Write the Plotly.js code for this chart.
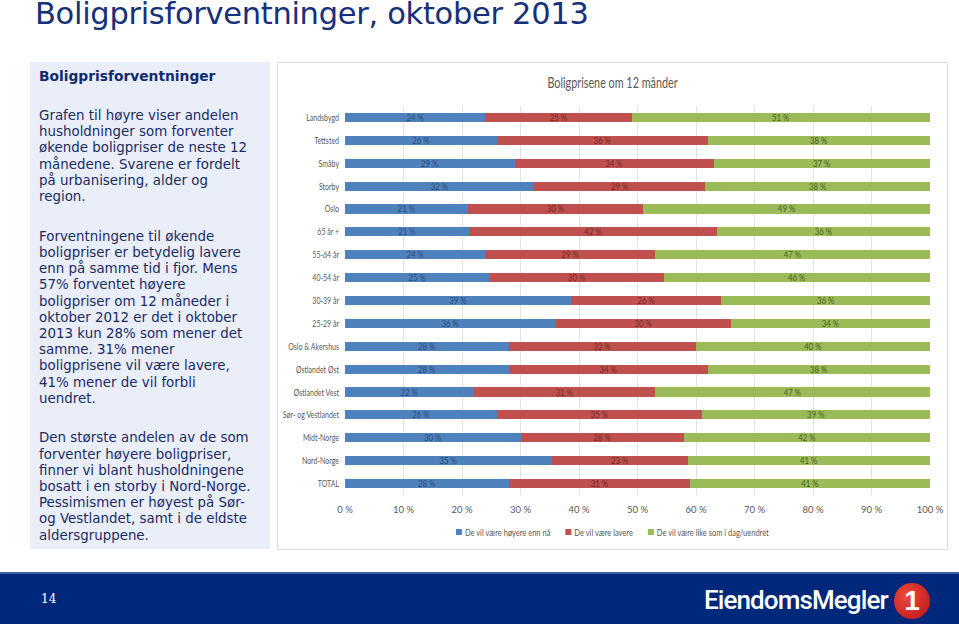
<!DOCTYPE html>
<html>
<head>
<meta charset="utf-8">
<script src="https://cdn.plot.ly/plotly-3.0.1.min.js"></script>
<style>
  html, body { margin:0; padding:0; width:959px; height:624px; overflow:hidden; background:#ffffff; }
  #title { position:absolute; left:35px; top:-1px; font-family:"DejaVu Sans", Verdana, sans-serif; font-size:30.5px; line-height:30px; color:#16307a; white-space:nowrap; letter-spacing:-0.3px; }
  #panel { position:absolute; left:30px; top:62px; width:240px; height:487px; background:#e9eef9; box-sizing:border-box; padding:5px 0 0 9px; font-family:"DejaVu Sans", Verdana, sans-serif; font-size:13.4px; line-height:16.2px; color:#1b2b63; white-space:nowrap; }
  #panel h3 { margin:0 0 23px 0; font-size:13.8px; font-weight:bold; color:#102a6e; line-height:18px; }
  #panel p { margin:0 0 23.5px 0; }
  #chartbox { position:absolute; left:277px; top:62px; width:671px; height:488px; border:1px solid #dedede; box-sizing:border-box; background:#fff; }
  #chart { position:absolute; left:0; top:0; width:669px; height:486px; }
  #footer { position:absolute; left:0; top:572px; width:959px; height:52px; background:#00287a; border-top:2px solid #3b5fa8; box-sizing:border-box; }
  #pnum { position:absolute; left:41px; top:18px; color:#fff; font-family:"DejaVu Serif", serif; font-size:12px; }
  #logo { position:absolute; left:704px; top:11px; color:#fff; font-family:"Roboto", sans-serif; font-size:26px; font-weight:500; letter-spacing:-0.9px; }
  #badge { position:absolute; left:894px; top:9px; width:36px; height:36px; border-radius:50%; background:radial-gradient(circle at 35% 35%, #f04a3a, #b5121b); color:#fff; font-family:"Liberation Sans", sans-serif; font-weight:bold; font-size:28px; text-align:center; line-height:36px; }
</style>
</head>
<body>
<div id="title">Boligprisforventninger, oktober 2013</div>
<div id="panel">
  <h3>Boligprisforventninger</h3>
  <p>Grafen til høyre viser andelen<br>husholdninger som forventer<br>økende boligpriser de neste 12<br>månedene. Svarene er fordelt<br>på urbanisering, alder og<br>region.</p>
  <p>Forventningene til økende<br>boligpriser er betydelig lavere<br>enn på samme tid i fjor. Mens<br>57% forventet høyere<br>boligpriser om 12 måneder i<br>oktober 2012 er det i oktober<br>2013 kun 28% som mener det<br>samme. 31% mener<br>boligprisene vil være lavere,<br>41% mener de vil forbli<br>uendret.</p>
  <p>Den største andelen av de som<br>forventer høyere boligpriser,<br>finner vi blant husholdningene<br>bosatt i en storby i Nord-Norge.<br>Pessimismen er høyest på Sør-<br>og Vestlandet, samt i de eldste<br>aldersgruppene.</p>
</div>
<div id="chartbox"><div id="chart"></div></div>
<div id="footer">
  <div id="pnum">14</div>
  <div id="logo">EiendomsMegler</div>
  <div id="badge">1</div>
</div>
<script>
const categories = ["Landsbygd","Tettsted","Småby","Storby","Oslo","65 år +","55-64 år","40-54 år","30-39 år","25-29 år","Oslo & Akershus","Østlandet Øst","Østlandet Vest","Sør- og Vestlandet","Midt-Norge","Nord-Norge","TOTAL"];
const higher = [24,26,29,32,21,21,24,25,39,36,28,28,22,26,30,35,28];
const lower  = [25,36,34,29,30,42,29,30,26,30,32,34,31,35,28,23,31];
const same   = [51,38,37,38,49,36,47,46,36,34,40,38,47,39,42,41,41];
const seriesNames = ["De vil være høyere enn nå","De vil være lavere","De vil være like som i dag/uendret"];
const tickVals = [0,10,20,30,40,50,60,70,80,90,100];
const tickText = ["0 %","10 %","20 %","30 %","40 %","50 %","60 %","70 %","80 %","90 %","100 %"];
const colors = ["#4f81bd","#c0504d","#9bbb59"];
const labelColors = ["#2d4a75","#6e2a28","#4a5e28"];

// 100 % stacked, as in the original chart: each row is scaled to its own total
const totals = categories.map((c, k) => higher[k] + lower[k] + same[k]);

const font = "Lato, Roboto, sans-serif";
const data = [higher, lower, same].map((vals, i) => ({
  type: "bar",
  orientation: "h",
  name: seriesNames[i],
  y: categories,
  x: vals.map((v, k) => v / totals[k] * 100),
  text: vals.map(v => v + " %"),
  textposition: "inside",
  insidetextanchor: "middle",
  textangle: 0,
  constraintext: "none",
  textfont: {family: font, size: 9.5, color: labelColors[i]},
  marker: {color: colors[i]},
  hoverinfo: "skip"
}));

const layout = {
  width: 669, height: 486,
  barmode: "stack",
  bargap: 0.6,
  margin: {l: 67, r: 17, t: 43, b: 54, autoexpand: false},
  paper_bgcolor: "rgba(0,0,0,0)",
  plot_bgcolor: "#ffffff",
  title: {text: "Boligprisene om 12 månder", x: 0.5, xanchor: "center", y: 0.97, yanchor: "top", font: {family: font, size: 15, color: "#595959"}},
  font: {family: font, color: "#595959", size: 9.5},
  xaxis: {range: [0, 100], tickvals: tickVals, ticktext: tickText, showgrid: true, gridcolor: "#e4e4e4", gridwidth: 1, zeroline: false, showline: false, ticks: "", ticklabelstandoff: 7, tickfont: {family: font, size: 9.5, color: "#595959"}, fixedrange: true, automargin: false},
  yaxis: {autorange: "reversed", showgrid: false, zeroline: false, showline: false, ticks: "", ticklabelstandoff: 5, tickfont: {family: font, size: 10, color: "#595959"}, fixedrange: true, automargin: false},
  legend: {orientation: "h", x: 0.457, xanchor: "center", y: -0.098, yanchor: "middle", font: {family: font, size: 10, color: "#595959"}, itemwidth: 30, traceorder: "normal"},
  showlegend: true
};

// the original chart uses a narrow (Calibri-like) face; condense the SVG texts to match
function condense(selector, f) {
  document.querySelectorAll(selector).forEach(t => {
    const L = t.getComputedTextLength();
    if (L > 0) { t.setAttribute("textLength", (L * f).toFixed(2)); t.setAttribute("lengthAdjust", "spacingAndGlyphs"); }
  });
}
Plotly.newPlot("chart", data, layout, {displayModeBar: false, staticPlot: true}).then(() => {
  condense("#chart .ytick text", 0.7);
  condense("#chart .gtitle", 0.72);
  condense("#chart .bartext", 0.82);
  // compact legend: small squares, text close to its square, items packed like the original
  const lg = document.querySelector("#chart g.legend");
  if (!lg) return;
  const items = [...lg.querySelectorAll("g.traces")];
  let x = 0;
  items.forEach(it => {
    const t = it.querySelector("text.legendtext");
    const p = it.querySelector(".legendpoints path");
    if (p) p.setAttribute("d", "M3,3H-3V-3H3Z");
    const L = t ? t.getComputedTextLength() * 0.75 : 0;
    if (t) { t.setAttribute("textLength", L.toFixed(2)); t.setAttribute("lengthAdjust", "spacingAndGlyphs"); t.setAttribute("x", 26); }
    const m = /translate\(([-\d.]+)[ ,]+([-\d.]+)\)/.exec(it.getAttribute("transform") || "translate(0,0)");
    const y = m ? m[2] : 0;
    it.setAttribute("transform", `translate(${x - 17},${y})`);
    x += (26 + L - 17) + 15;
  });
  const first = items[0].querySelector(".legendpoints path").getBoundingClientRect();
  const last = items[items.length - 1].querySelector("text.legendtext").getBoundingClientRect();
  const boxR = document.getElementById("chartbox").getBoundingClientRect();
  const targetX = boxR.left + boxR.width / 2;
  const targetY = boxR.top + 470;
  const dx = targetX - (first.left + last.right) / 2;
  const dy = targetY - (first.top + first.bottom) / 2;
  const m = /translate\(([-\d.]+)[ ,]+([-\d.]+)\)/.exec(lg.getAttribute("transform") || "");
  if (m) lg.setAttribute("transform", `translate(${parseFloat(m[1]) + dx},${parseFloat(m[2]) + dy})`);
});
</script>
</body>
</html>
